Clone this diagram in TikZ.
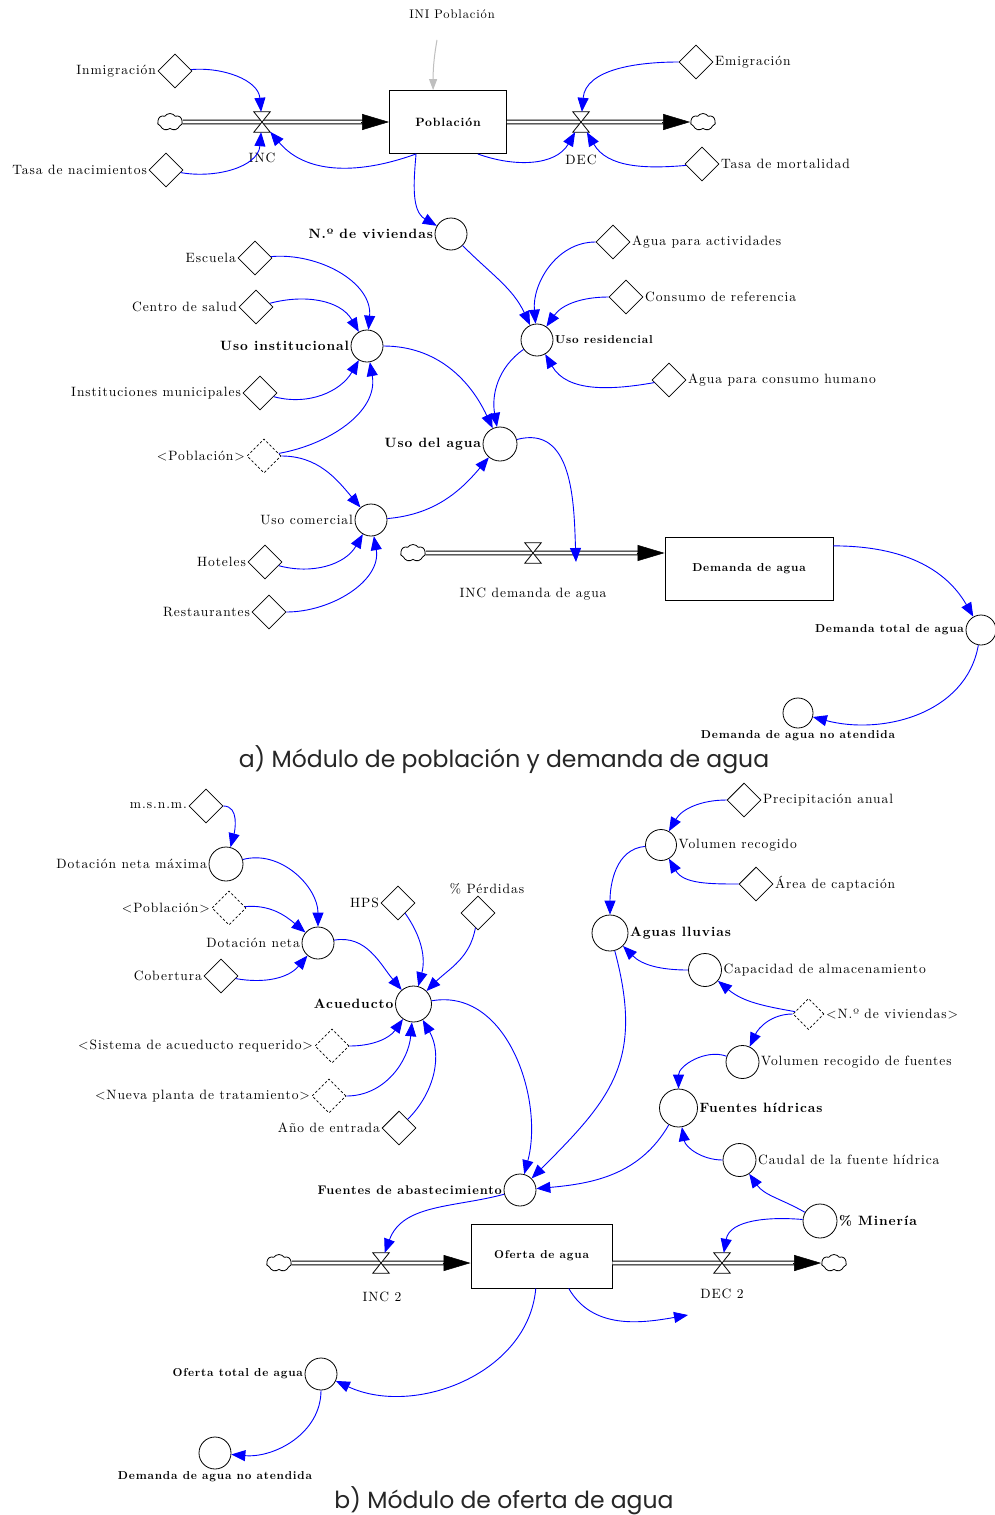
\documentclass[tikz,border=0pt]{standalone}
\usepackage{fontspec}
\setmainfont{lmroman10-regular.otf}[BoldFont=lmroman10-bold.otf, LetterSpace=7]
\newfontfamily\capfont{Poppins}
\usetikzlibrary{shapes.geometric,shapes.symbols,arrows.meta,calc}
\newcommand\myfs{\fontsize{13.5}{16}\selectfont}
\newcommand\mysfs{\fontsize{11.5}{14}\selectfont}
\tikzset{
 lbl/.style={font=\myfs, inner sep=1.5pt, text=black},
 blbl/.style={font=\myfs\bfseries, inner sep=1.5pt, text=black},
 sblbl/.style={font=\mysfs\bfseries, inner sep=1.5pt, text=black},
 aux/.style={diamond, draw, line width=0.8pt, minimum width=34pt, minimum height=34pt, inner sep=0pt, aspect=1},
 shdw/.style={aux, dash pattern=on 2.5pt off 2pt, line width=0.7pt},
 var/.style={circle, draw, line width=0.8pt, minimum size=32pt, inner sep=0pt},
 stock/.style={rectangle, draw, line width=0.9pt, inner sep=0pt},
 cloudn/.style={cloud, draw, cloud puffs=7, cloud puff arc=110, minimum width=25pt, minimum height=17pt, inner sep=0pt, aspect=1.5, line width=0.8pt},
 pipe/.style={draw=black, double=white, double distance=2.6pt, line width=1pt},
 fhead/.style={-{Triangle[length=27pt,width=16pt]}, line width=0.5pt, black},
 valve/.style={rectangle, minimum width=16pt, minimum height=20pt, inner sep=0pt},
 vshape/.style={draw, fill=white, line width=0.8pt, line join=miter},
 link/.style={blue, line width=0.9pt, -{Triangle[length=14pt,width=11pt]}},
}
\begin{document}
\begin{tikzpicture}[x=1pt,y=-1pt]
\fill[white] (0,0) rectangle (995,1515);
\useasboundingbox (0,0) rectangle (995,1515);

% ================= Part a =================
\node[font=\fontsize{12.5}{14}\selectfont] (ini) at (452,14) {INI Población};
\coordinate (inis) at (437,40);
\node[stock, minimum width=117pt, minimum height=63pt, font=\fontsize{12}{14}\selectfont\bfseries] (pop) at (448,122) {Población};
\draw[black!25, line width=1pt, -{Triangle[length=11pt,width=8pt]}] (inis) to[out=-100,in=90] (pop.115);

\node[cloudn] (cl1) at (170,122) {};
\node[cloudn] (cl2) at (703,122) {};
\draw[pipe, shorten >=26pt] (cl1) -- (pop.west);
\draw[fhead] ($(pop.west)+(-28,0)$) -- (pop.west);
\draw[pipe, shorten >=26pt] (pop.east) -- (cl2);
\draw[fhead] ($(cl2.west)+(-28,0)$) -- (cl2.west);
\node[valve] (inc) at (262,122) {};
\node[valve] (dec) at (581,122) {};
\draw[vshape] (inc.north west) -- (inc.north east) -- (inc.south west) -- (inc.south east) -- cycle;
\draw[vshape] (dec.north west) -- (dec.north east) -- (dec.south west) -- (dec.south east) -- cycle;
\node[lbl] at (262,158) {INC};
\node[lbl] at (581,160) {DEC};

\node[aux, label={[lbl]left:Inmigración}] (inmig) at (175,71) {};
\node[aux, label={[lbl]left:Tasa de nacimientos}] (tnac) at (166,170) {};
\node[aux, label={[lbl]right:Emigración}] (emig) at (696,62) {};
\node[aux, label={[lbl]right:Tasa de mortalidad}] (tmort) at (702,164) {};

\draw[link] (inmig) to[out=5,in=95] (inc);
\draw[link] (tnac) to[out=-10,in=-95] (inc);
\draw[link] (pop.225) to[out=200,in=-50] (inc);
\draw[link] (emig) to[out=180,in=85] (dec);
\draw[link] (tmort) to[out=185,in=-60] (dec);
\draw[link] (pop.-47) to[out=-20,in=-120] (dec);

\node[var, label={[blbl]left:N.º de viviendas}] (viv) at (451,234) {};
\draw[link] (pop.225) to[out=-95,in=150] (viv);

\node[var, label={[sblbl]right:Uso residencial}] (ures) at (537,340) {};
\node[aux, label={[lbl]right:Agua para actividades}] (aact) at (613,242) {};
\node[aux, label={[lbl]right:Consumo de referencia}] (cref) at (626,297) {};
\node[aux, label={[lbl]right:Agua para consumo humano}] (ahum) at (669,380) {};
\node[var, minimum size=34pt, label={[blbl]left:Uso del agua}] (uagua) at (500,444) {};
\draw[link] (viv) to[out=-45,in=115] (ures);
\draw[link] (aact) to[out=180,in=95] (ures);
\draw[link] (cref) to[out=180,in=55] (ures);
\draw[link] (ahum) to[out=190,in=-60] (ures);
\draw[link] (ures) to[out=215,in=100] (uagua);

\node[aux, label={[lbl]left:Escuela}] (esc) at (255,258) {};
\node[aux, label={[lbl]left:Centro de salud}] (csal) at (256,307) {};
\node[var, label={[blbl]left:Uso institucional}] (uinst) at (367,346) {};
\node[aux, label={[lbl]left:Instituciones municipales}] (imun) at (260,393) {};
\node[shdw, label={[lbl]left:<Población>}] (pob1) at (264,456) {};
\node[var, label={[lbl]left:Uso comercial}] (ucom) at (371,520) {};
\node[aux, label={[lbl]left:Hoteles}] (hot) at (265,562) {};
\node[aux, label={[lbl]left:Restaurantes}] (rest) at (269,612) {};
\draw[link] (esc) to[out=5,in=85] (uinst);
\draw[link] (csal) to[out=15,in=120] (uinst);
\draw[link] (imun) to[out=-15,in=-120] (uinst);
\draw[link] (pob1) to[out=10,in=-80] (uinst);
\draw[link] (pob1) to[out=0,in=130] (ucom);
\draw[link] (uinst) to[out=0,in=115] (uagua);
\draw[link] (ucom) to[out=5,in=-130] (uagua);
\draw[link] (hot) to[out=-15,in=-120] (ucom);
\draw[link] (rest) to[out=0,in=-80] (ucom);

\node[cloudn] (cl5) at (413,553) {};
\node[stock, minimum width=168pt, minimum height=63pt, font=\mysfs\bfseries] (dem) at (749,568.5) {Demanda de agua};
\draw[pipe, shorten >=26pt] (cl5) -- (cl5 -| dem.west);
\draw[fhead] ($(cl5 -| dem.west)+(-28,0)$) -- (cl5 -| dem.west);
\node[valve] (incd) at (533,553) {};
\draw[vshape] (incd.north west) -- (incd.north east) -- (incd.south west) -- (incd.south east) -- cycle;
\node[lbl] at (533,594) {INC demanda de agua};
\coordinate (incdin) at (576,562);
\draw[link] (uagua) to[out=15,in=92,looseness=1.1] (incdin);

\node[var, minimum size=30pt, label={[sblbl]left:Demanda total de agua}] (dtot) at (981,630) {};
\draw[link] (dem.15) to[out=0,in=120] (dtot);
\node[var, minimum size=30pt, label={[sblbl]below:Demanda de agua no atendida}] (dnoat) at (798,713) {};
\draw[link] (dtot) to[out=-100,in=-15] (dnoat);

\node[font=\capfont\fontsize{23.5}{28}\selectfont, text=black!85] (capa) at (504,760) {a) Módulo de población y demanda de agua};

% ================= Part b =================
\node[aux, label={[lbl]left:m.s.n.m.}] (msnm) at (206,806) {};
\node[var, minimum size=34pt, label={[lbl]left:Dotación neta máxima}] (dnmax) at (226,864) {};
\node[shdw, label={[lbl]left:<Población>}] (pob2) at (229,908) {};
\node[var, label={[lbl]left:Dotación neta}] (dneta) at (318,943) {};
\node[aux, label={[lbl]left:Cobertura}] (cob) at (221,976) {};
\node[aux, label={[lbl]left:HPS}] (hps) at (398,903) {};
\node[aux, label={[lbl, xshift=9pt]above:\% Pérdidas}] (perd) at (478,913) {};
\node[var, minimum size=36pt, label={[blbl]left:Acueducto}] (acued) at (413.5,1004) {};
\node[shdw, label={[lbl]left:<Sistema de acueducto requerido>}] (sist) at (332,1046) {};
\node[shdw, label={[lbl]left:<Nueva planta de tratamiento>}] (nueva) at (329,1096) {};
\node[aux, label={[lbl]left:Año de entrada}] (anio) at (399,1128) {};

\draw[link] (msnm) to[out=0,in=75] (dnmax);
\draw[link] (dnmax) to[out=15,in=90] (dneta);
\draw[link] (pob2) to[out=5,in=140] (dneta);
\draw[link] (cob) to[out=-10,in=-130] (dneta);
\draw[link] (hps) to[out=-55,in=75] (acued);
\draw[link] (perd) to[out=-100,in=45] (acued);
\draw[link] (dneta) to[out=10,in=130] (acued);
\draw[link] (sist) to[out=0,in=-125] (acued);
\draw[link] (nueva) to[out=0,in=-95] (acued);
\draw[link] (anio) to[out=45,in=-60] (acued);

\node[aux, label={[lbl]right:Precipitación anual}] (precip) at (744,800) {};
\node[var, minimum size=31pt, label={[lbl]right:Volumen recogido}] (volrec) at (661,845) {};
\node[aux, label={[lbl]right:Área de captación}] (area) at (756,884) {};
\node[var, minimum size=36pt, label={[blbl]right:Aguas lluvias}] (aguall) at (610,933) {};
\node[var, minimum size=33pt, label={[lbl]right:Capacidad de almacenamiento}] (capalm) at (705,970) {};
\node[shdw, minimum width=31pt, minimum height=31pt, label={[lbl]right:<N.º de viviendas>}] (nviv2) at (808.5,1014) {};
\node[var, minimum size=33pt, label={[lbl]right:Volumen recogido de fuentes}] (volfu) at (742.5,1062) {};
\node[var, minimum size=38pt, label={[blbl]right:Fuentes hídricas}] (fhid) at (678.5,1108) {};
\node[var, minimum size=33pt, label={[lbl]right:Caudal de la fuente hídrica}] (caudal) at (739.5,1160) {};
\node[var, minimum size=34pt, label={[blbl]right:\% Minería}] (miner) at (820,1221) {};
\node[var, label={[font=\fontsize{12.5}{15}\selectfont\bfseries, inner sep=1.5pt]left:Fuentes de abastecimiento}] (fabast) at (520,1190) {};

\draw[link] (precip) to[out=180,in=60] (volrec);
\draw[link] (area) to[out=180,in=-60] (volrec);
\draw[link] (volrec) to[out=185,in=90] (aguall);
\draw[link] (capalm) to[out=180,in=-45] (aguall);
\draw[link] (nviv2) to[out=170,in=-40] (capalm);
\draw[link] (nviv2) to[out=180,in=65] (volfu);
\draw[link] (volfu) to[out=160,in=90] (fhid);
\draw[link] (caudal) to[out=180,in=-80] (fhid);
\draw[link] (miner) to[out=150,in=-55] (caudal);
\draw[link] (aguall) to[out=-75,in=45,looseness=1.2] (fabast);
\draw[link] (fhid) to[out=-120,in=5] (fabast);
\draw[link] (acued) to[out=10,in=75] (fabast);

\node[cloudn] (cl3) at (279,1263) {};
\node[stock, minimum width=141pt, minimum height=64pt, font=\mysfs\bfseries] (of) at (541.5,1256) {Oferta de agua};
\draw[pipe, shorten >=26pt] (cl3) -- (cl3 -| of.west);
\draw[fhead] ($(cl3 -| of.west)+(-28,0)$) -- (cl3 -| of.west);
\node[cloudn] (cl4) at (834,1263) {};
\draw[pipe, shorten >=26pt] (cl4 -| of.east) -- (cl4);
\draw[fhead] ($(cl4.west)+(-28,0)$) -- (cl4.west);
\node[valve] (inc2) at (381,1263) {};
\node[valve] (dec2) at (722,1263) {};
\draw[vshape] (inc2.north west) -- (inc2.north east) -- (inc2.south west) -- (inc2.south east) -- cycle;
\draw[vshape] (dec2.north west) -- (dec2.north east) -- (dec2.south west) -- (dec2.south east) -- cycle;
\node[lbl] at (382,1297) {INC 2};
\node[lbl] at (722,1294) {DEC 2};

\draw[link] (fabast) to[out=195,in=70] (inc2);
\draw[link] (miner) to[out=175,in=80] (dec2);
\coordinate (ofout) at (688,1315);
\draw[link] (of.-50) to[out=-60,in=190] (ofout);

\node[var, label={[sblbl]left:Oferta total de agua}] (ototal) at (321,1374) {};
\draw[link] (of.-100) to[out=-95,in=-25] (ototal);
\node[var, label={[sblbl]below:Demanda de agua no atendida}] (dnoat2) at (215,1453) {};
\draw[link] (ototal) to[out=-90,in=-5] (dnoat2);

\node[font=\capfont\fontsize{23.5}{28}\selectfont, text=black!85] (capb) at (504,1501) {b) Módulo de oferta de agua};
\end{tikzpicture}
\end{document}
